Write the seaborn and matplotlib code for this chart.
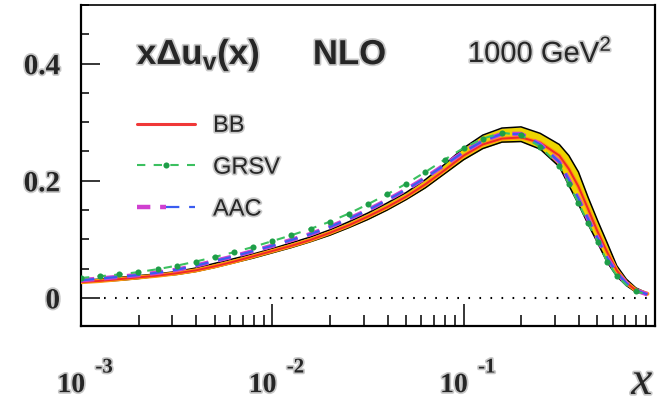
import numpy as np
import pandas as pd
import matplotlib
matplotlib.use('Agg')
import matplotlib.pyplot as plt
import matplotlib.patheffects as pe
from matplotlib.ticker import MultipleLocator, NullFormatter
from matplotlib.legend_handler import HandlerTuple
import seaborn as sns

# log10(x) grid, values
log_x = [-3.0, -2.9, -2.8, -2.7, -2.6, -2.5, -2.4, -2.3, -2.2, -2.1,
         -2.0, -1.9, -1.8, -1.7, -1.6, -1.5, -1.4, -1.3, -1.2, -1.1,
         -1.0, -0.9, -0.8, -0.7, -0.6, -0.5, -0.45, -0.4, -0.35, -0.3,
         -0.25, -0.2, -0.15, -0.1, -0.04]

grsv = [0.034, 0.037, 0.040, 0.044, 0.049, 0.055, 0.062, 0.070, 0.078, 0.087,
        0.097, 0.107, 0.118, 0.130, 0.144, 0.160, 0.177, 0.195, 0.215, 0.236,
        0.256, 0.272, 0.282, 0.278, 0.258, 0.226, 0.194, 0.162, 0.128, 0.096,
        0.062, 0.038, 0.022, 0.011, 0.006]
aac = [0.030, 0.033, 0.036, 0.039, 0.043, 0.048, 0.055, 0.063, 0.071, 0.080,
       0.089, 0.099, 0.109, 0.121, 0.135, 0.150, 0.167, 0.185, 0.205, 0.227,
       0.249, 0.268, 0.280, 0.280, 0.262, 0.232, 0.201, 0.169, 0.135, 0.102,
       0.068, 0.043, 0.025, 0.013, 0.006]
bb = [0.027, 0.029, 0.032, 0.035, 0.038, 0.042, 0.047, 0.054, 0.062, 0.071,
      0.080, 0.089, 0.099, 0.111, 0.124, 0.139, 0.155, 0.173, 0.194, 0.218,
      0.243, 0.262, 0.272, 0.274, 0.265, 0.243, 0.220, 0.190, 0.152, 0.113,
      0.078, 0.047, 0.026, 0.013, 0.007]
band_hi = [0.030, 0.032, 0.035, 0.038, 0.041, 0.045, 0.051, 0.059, 0.067, 0.075,
           0.084, 0.094, 0.104, 0.116, 0.130, 0.145, 0.162, 0.180, 0.202, 0.228,
           0.256, 0.278, 0.290, 0.292, 0.281, 0.262, 0.243, 0.215, 0.172, 0.132,
           0.094, 0.055, 0.032, 0.017, 0.008]
band_lo = [0.026, 0.028, 0.030, 0.033, 0.037, 0.040, 0.045, 0.052, 0.060, 0.068,
           0.077, 0.086, 0.096, 0.107, 0.120, 0.134, 0.150, 0.168, 0.188, 0.212,
           0.236, 0.255, 0.266, 0.267, 0.254, 0.224, 0.192, 0.160, 0.126, 0.094,
           0.061, 0.037, 0.021, 0.010, 0.006]

x_ticks = [1e-3, 1e-2, 1e-1]
x_exps = ['-3', '-2', '-1']
y_ticks = [0, 0.2, 0.4]
y_labels = ['0', '0.2', '0.4']

df = pd.DataFrame({'x': np.power(10.0, log_x), 'BB': bb, 'GRSV': grsv,
                   'AAC': aac, 'hi': band_hi, 'lo': band_lo})

sns.set_theme(style='ticks')
plt.rcParams['font.family'] = ['Liberation Sans', 'DejaVu Sans']
plt.rcParams['mathtext.fontset'] = 'custom'
plt.rcParams['mathtext.rm'] = 'Liberation Sans'
plt.rcParams['mathtext.bf'] = 'Liberation Sans:bold'

fig = plt.figure(figsize=(6.67, 4.06), dpi=100)
ax = fig.add_axes([0.1214, 0.1946, 0.8606, 0.7904])

# BB error band
ax.fill_between(df.x, df.lo, df.hi, color='#ecd400', lw=0, zorder=1)
sns.lineplot(data=df, x='x', y='hi', ax=ax, color='black', lw=1.1, sort=False, zorder=2)
sns.lineplot(data=df, x='x', y='lo', ax=ax, color='black', lw=1.1, sort=False, zorder=2)

# BB central
sns.lineplot(data=df, x='x', y='BB', ax=ax, color='#ff9a10', lw=3.0, sort=False, zorder=3)
sns.lineplot(data=df, x='x', y='BB', ax=ax, color='#f02828', lw=1.4, sort=False, zorder=3)

# AAC dashed (magenta under blue)
sns.lineplot(data=df, x='x', y='AAC', ax=ax, color='#d040d0', lw=3.2, sort=False,
             linestyle=(0, (3, 2.2)), zorder=4)
sns.lineplot(data=df, x='x', y='AAC', ax=ax, color='#3a5cf0', lw=1.6, sort=False,
             linestyle=(0, (6, 4.4)), zorder=4)

# GRSV dash-dot with dots
sns.lineplot(data=df, x='x', y='GRSV', ax=ax, color='#3cc060', lw=1.5, sort=False,
             linestyle=(0, (4, 4)), marker='o', markersize=4.4, markevery=0.028,
             markeredgewidth=0, markerfacecolor='#1e9e48', zorder=5)

# zero line
ax.axhline(0, xmin=0.04, xmax=0.99, color='black', lw=1.5,
           linestyle=(0, (0.8, 4.5)), zorder=1)

ax.set_xscale('log')
ax.set_xlim(1e-3, 1)
ax.set_ylim(-0.048, 0.50)
ax.set_xlabel('')
ax.set_ylabel('')

ax.set_yticks(y_ticks)
ax.set_yticklabels(y_labels)
ax.yaxis.set_minor_locator(MultipleLocator(0.05))
ax.set_xticks(x_ticks)
ax.xaxis.set_major_formatter(NullFormatter())
ax.xaxis.set_minor_formatter(NullFormatter())

ax.tick_params(axis='y', which='major', direction='in', length=14, width=1.3,
               pad=15, labelsize=21)
ax.tick_params(axis='y', which='minor', direction='in', length=6, width=1.3, left=True)
ax.tick_params(axis='x', which='major', direction='in', length=16, width=1.3)
ax.tick_params(axis='x', which='minor', direction='in', length=8, width=1.3, bottom=True)

shadow = [pe.withStroke(linewidth=2.5, foreground='#c8c8c8')]
serif = ['Liberation Serif', 'DejaVu Serif']

for lab in ax.get_yticklabels():
    lab.set_fontfamily(serif)
    lab.set_fontweight('bold')
    lab.set_path_effects(shadow)

for s in ax.spines.values():
    s.set_visible(True)
    s.set_linewidth(1.6)
    s.set_color('black')
ax.spines['top'].set_linewidth(1.2)

# x tick labels as 10 with raised exponent
trans = ax.get_xaxis_transform()
for xt, ex in zip(x_ticks, x_exps):
    ax.text(xt * 1.05, -0.206, '10', transform=trans, ha='right', va='baseline',
            fontsize=20, fontweight='bold', family=serif, path_effects=shadow,
            clip_on=False)
    ax.text(xt * 1.19, -0.145, ex, transform=trans, ha='left', va='baseline',
            fontsize=15, fontweight='bold', family=serif, path_effects=shadow,
            clip_on=False)

ax.text(0.977, -0.212, 'x', transform=ax.transAxes, ha='center', va='baseline',
        fontsize=34, fontstyle='italic', family=serif, path_effects=shadow,
        clip_on=False)

# in-plot titles
ax.text(0.0976, 0.816, r'xΔu$_{\mathbf{v}}$(x)', transform=ax.transAxes,
        ha='left', va='baseline', fontsize=25, fontweight='bold',
        path_effects=shadow)
ax.text(0.404, 0.816, 'NLO', transform=ax.transAxes, ha='left', va='baseline',
        fontsize=25, fontweight='bold', path_effects=shadow)
ax.text(0.674, 0.822, r'1000 GeV$^2$', transform=ax.transAxes, ha='left',
        va='baseline', fontsize=21, path_effects=shadow)

# legend
h_bb, = ax.plot([], [], color='#f03838', lw=2.2)
h_gr, = ax.plot([], [], color='#3cc060', lw=1.5, linestyle=(0, (4, 4)),
                marker='o', markersize=4.4, markevery=[1, 3],
                markeredgewidth=0, markerfacecolor='#1e9e48')
h_a1, = ax.plot([], [], color='#d040d0', lw=3.2, linestyle=(0, (3, 2.2)))
h_a2, = ax.plot([], [], color='#3a5cf0', lw=1.6, linestyle=(0, (6, 4.4)))
leg = ax.legend([h_bb, h_gr, (h_a1, h_a2)], ['BB', 'GRSV', 'AAC'],
                handler_map={tuple: HandlerTuple(ndivide=None, pad=0)},
                loc='upper left', bbox_to_anchor=(0.0976, 0.658), frameon=False,
                borderpad=0, borderaxespad=0, fontsize=17, handlelength=2.46,
                handletextpad=0.76, labelspacing=0.84)
for t in leg.get_texts():
    t.set_path_effects(shadow)

fig.savefig('out.png', dpi=100)
